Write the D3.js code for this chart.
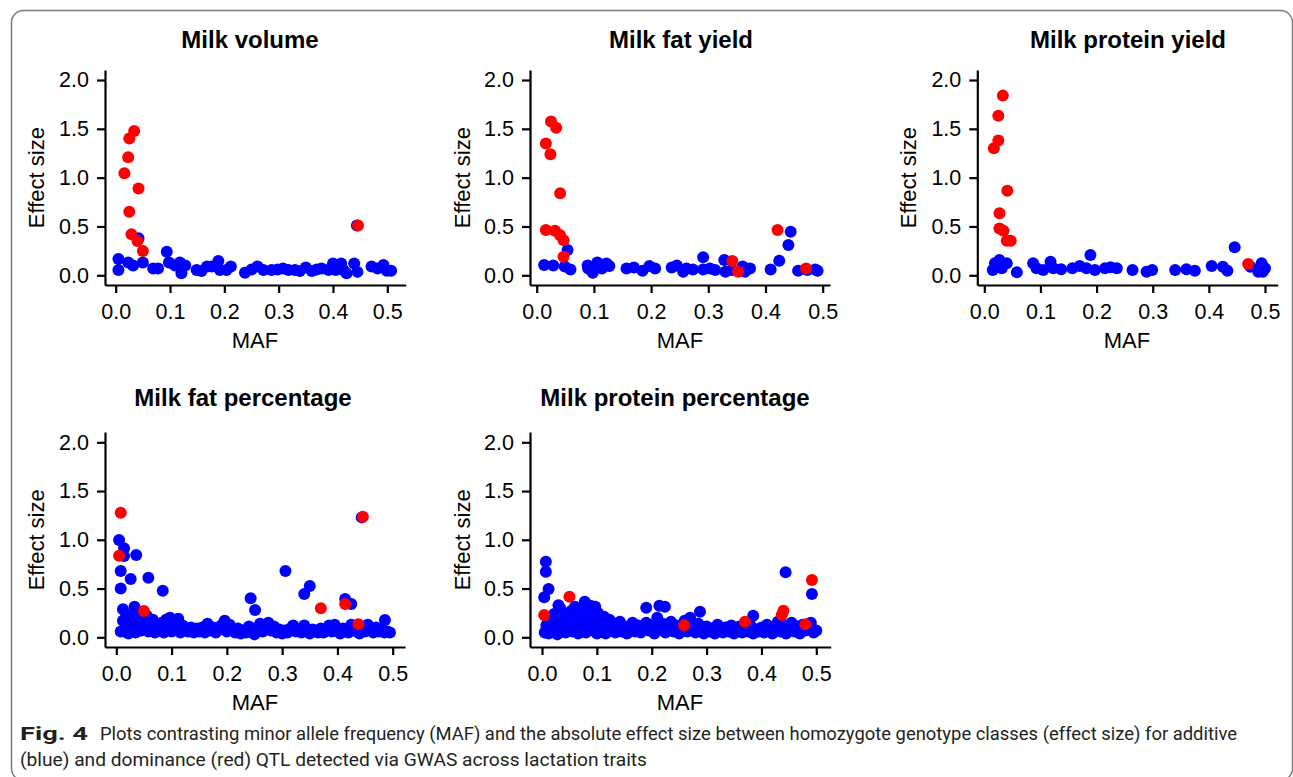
<!DOCTYPE html>
<html>
<head>
<meta charset="utf-8">
<script src="https://cdn.jsdelivr.net/npm/d3@7.9.0/dist/d3.min.js"></script>
<style>
  body { margin: 0; background: #fff; }
  svg { display: block; }
  .tick text { font-family: "Liberation Sans", Arial, sans-serif; fill: #000; }
</style>
</head>
<body>
<svg id="chart" width="1293" height="777"></svg>
<script>
// ---- data: [MAF, effect size] ----
const yTicks = [0, 0.5, 1.0, 1.5, 2.0];
const xTicks = [0, 0.1, 0.2, 0.3, 0.4, 0.5];

const volumeAdditive = [
  [0.042,0.38],[0.444,0.51],[0.094,0.24],[0.005,0.167],[0.005,0.054],[0.023,0.13],[0.032,0.10],
  [0.050,0.13],[0.069,0.07],[0.078,0.07],[0.098,0.13],[0.109,0.10],[0.118,0.13],[0.121,0.02],
  [0.128,0.10],[0.149,0.055],[0.158,0.045],[0.168,0.09],[0.177,0.09],[0.189,0.146],[0.192,0.055],
  [0.204,0.055],[0.212,0.09],[0.238,0.027],[0.250,0.06],[0.261,0.09],[0.272,0.055],[0.287,0.055],
  [0.298,0.06],[0.308,0.07],[0.318,0.055],[0.330,0.055],[0.339,0.045],[0.350,0.08],[0.361,0.045],
  [0.370,0.06],[0.379,0.07],[0.392,0.055],[0.400,0.12],[0.405,0.055],[0.415,0.12],[0.419,0.055],
  [0.425,0.02],[0.439,0.12],[0.445,0.035],[0.471,0.09],[0.482,0.07],[0.493,0.105],[0.499,0.047],
  [0.507,0.047]
];
const volumeDominance = [
  [0.034,1.478],[0.025,1.40],[0.023,1.21],[0.016,1.045],[0.042,0.89],[0.025,0.65],[0.029,0.42],
  [0.040,0.35],[0.050,0.25],[0.446,0.51]
];

const fatYieldAdditive = [
  [0.054,0.26],[0.013,0.105],[0.029,0.10],[0.049,0.09],[0.059,0.06],[0.089,0.10],[0.090,0.07],
  [0.098,0.027],[0.106,0.13],[0.114,0.07],[0.122,0.12],[0.127,0.095],[0.157,0.07],[0.170,0.08],
  [0.185,0.047],[0.197,0.095],[0.207,0.07],[0.236,0.08],[0.245,0.10],[0.256,0.037],[0.262,0.07],
  [0.273,0.06],[0.291,0.185],[0.291,0.06],[0.303,0.07],[0.312,0.055],[0.328,0.157],[0.330,0.037],
  [0.341,0.055],[0.360,0.09],[0.364,0.037],[0.373,0.07],[0.409,0.06],[0.424,0.15],[0.440,0.31],
  [0.444,0.447],[0.457,0.047],[0.473,0.055],[0.487,0.06],[0.491,0.047]
];
const fatYieldDominance = [
  [0.025,1.574],[0.034,1.51],[0.016,1.35],[0.024,1.24],[0.041,0.84],[0.016,0.464],[0.032,0.457],
  [0.041,0.41],[0.047,0.36],[0.047,0.19],[0.421,0.464],[0.342,0.146],[0.352,0.037],[0.471,0.07]
];

const proteinYieldAdditive = [
  [0.015,0.054],[0.019,0.123],[0.027,0.157],[0.031,0.072],[0.040,0.123],[0.058,0.03],[0.087,0.123],
  [0.093,0.072],[0.105,0.054],[0.118,0.14],[0.123,0.072],[0.137,0.062],[0.157,0.072],[0.170,0.095],
  [0.182,0.072],[0.189,0.208],[0.197,0.054],[0.215,0.072],[0.225,0.082],[0.236,0.072],[0.264,0.054],
  [0.289,0.037],[0.299,0.054],[0.340,0.054],[0.360,0.062],[0.375,0.047],[0.405,0.095],[0.425,0.088],
  [0.433,0.047],[0.446,0.287],[0.474,0.088],[0.488,0.037],[0.494,0.123],[0.500,0.072],[0.496,0.037]
];
const proteinYieldDominance = [
  [0.033,1.84],[0.025,1.635],[0.025,1.38],[0.017,1.30],[0.041,0.867],[0.027,0.635],[0.027,0.48],
  [0.034,0.457],[0.040,0.355],[0.047,0.355],[0.470,0.116]
];

const fatPctAdditive = [
  [0.444,1.23],[0.005,0.998],[0.014,0.913],[0.014,0.834],[0.036,0.844],[0.008,0.68],[0.026,0.598],
  [0.058,0.611],[0.008,0.50],[0.084,0.478],[0.012,0.287],[0.033,0.314],[0.306,0.68],[0.350,0.526],
  [0.340,0.444],[0.243,0.40],[0.251,0.28],[0.414,0.393],[0.425,0.342],[0.486,0.177],
  [0.008,0.06],[0.012,0.17],[0.015,0.06],[0.018,0.22],[0.02,0.1],[0.022,0.04],[0.025,0.15],
  [0.028,0.24],[0.03,0.08],[0.032,0.19],[0.035,0.05],[0.038,0.27],[0.04,0.12],[0.042,0.2],
  [0.045,0.07],[0.048,0.16],[0.052,0.1],[0.055,0.22],[0.058,0.06],[0.06,0.14],[0.063,0.09],
  [0.066,0.18],[0.07,0.05],[0.073,0.12],[0.078,0.08],[0.082,0.15],[0.086,0.05],[0.09,0.18],
  [0.093,0.1],[0.097,0.2],[0.1,0.06],[0.104,0.14],[0.108,0.09],[0.112,0.19],[0.116,0.05],
  [0.12,0.12],[0.125,0.08],[0.13,0.06],[0.135,0.1],[0.14,0.05],[0.145,0.09],[0.15,0.06],
  [0.155,0.1],[0.16,0.05],[0.165,0.14],[0.17,0.07],[0.175,0.1],[0.18,0.05],[0.185,0.08],
  [0.19,0.12],[0.196,0.17],[0.2,0.06],[0.205,0.13],[0.21,0.08],[0.215,0.05],[0.22,0.09],
  [0.225,0.04],[0.23,0.07],[0.235,0.05],[0.24,0.11],[0.245,0.06],[0.25,0.03],[0.255,0.09],
  [0.26,0.14],[0.265,0.06],[0.27,0.1],[0.275,0.15],[0.28,0.07],[0.285,0.11],[0.29,0.05],
  [0.295,0.08],[0.3,0.04],[0.305,0.07],[0.31,0.05],[0.315,0.09],[0.32,0.12],[0.325,0.06],
  [0.33,0.08],[0.335,0.05],[0.34,0.12],[0.345,0.07],[0.35,0.04],[0.355,0.08],[0.36,0.06],
  [0.365,0.05],[0.37,0.09],[0.375,0.05],[0.38,0.07],[0.385,0.12],[0.39,0.06],[0.395,0.13],
  [0.4,0.08],[0.405,0.04],[0.41,0.09],[0.415,0.06],[0.42,0.05],[0.425,0.13],[0.43,0.08],
  [0.435,0.06],[0.44,0.04],[0.445,0.1],[0.45,0.06],[0.455,0.13],[0.46,0.08],[0.465,0.05],
  [0.47,0.1],[0.475,0.06],[0.48,0.08],[0.485,0.05],[0.49,0.06],[0.495,0.05]
];
const fatPctDominance = [
  [0.008,1.278],[0.005,0.837],[0.050,0.27],[0.446,1.237],[0.370,0.297],[0.414,0.342],[0.438,0.133]
];

const proteinPctAdditive = [
  [0.007,0.775],[0.007,0.673],[0.012,0.495],[0.004,0.41],[0.444,0.666],[0.492,0.444],[0.190,0.304],
  [0.214,0.324],[0.224,0.314],[0.288,0.263],[0.385,0.222],[0.030,0.33],[0.078,0.365],[0.097,0.314],
  [0.060,0.314],
  [0.005,0.05],[0.008,0.12],[0.01,0.2],[0.012,0.04],[0.015,0.09],[0.018,0.16],[0.02,0.06],
  [0.022,0.24],[0.025,0.11],[0.028,0.03],[0.03,0.18],[0.033,0.3],[0.035,0.08],[0.038,0.13],
  [0.04,0.22],[0.043,0.05],[0.046,0.15],[0.05,0.1],[0.053,0.27],[0.056,0.06],[0.06,0.19],
  [0.063,0.12],[0.066,0.04],[0.07,0.21],[0.072,0.3],[0.075,0.09],[0.078,0.16],[0.08,0.05],
  [0.084,0.22],[0.087,0.12],[0.09,0.32],[0.093,0.07],[0.096,0.17],[0.1,0.04],[0.102,0.25],
  [0.105,0.1],[0.108,0.15],[0.11,0.06],[0.113,0.21],[0.116,0.04],[0.12,0.12],[0.123,0.18],
  [0.126,0.07],[0.13,0.14],[0.134,0.05],[0.138,0.1],[0.142,0.16],[0.146,0.06],[0.15,0.11],
  [0.155,0.04],[0.16,0.09],[0.165,0.15],[0.17,0.06],[0.175,0.12],[0.18,0.05],[0.185,0.1],
  [0.19,0.15],[0.195,0.07],[0.2,0.12],[0.205,0.04],[0.21,0.2],[0.215,0.08],[0.22,0.14],
  [0.225,0.05],[0.23,0.1],[0.235,0.16],[0.24,0.06],[0.245,0.12],[0.25,0.04],[0.255,0.09],
  [0.26,0.17],[0.265,0.06],[0.27,0.2],[0.275,0.1],[0.28,0.05],[0.285,0.14],[0.29,0.08],
  [0.295,0.04],[0.3,0.11],[0.305,0.06],[0.31,0.09],[0.315,0.04],[0.32,0.13],[0.325,0.07],
  [0.33,0.05],[0.335,0.1],[0.34,0.06],[0.345,0.12],[0.35,0.04],[0.355,0.08],[0.36,0.11],
  [0.365,0.05],[0.37,0.09],[0.375,0.06],[0.38,0.12],[0.385,0.04],[0.39,0.08],[0.395,0.06],
  [0.4,0.1],[0.405,0.05],[0.41,0.13],[0.415,0.07],[0.42,0.04],[0.425,0.11],[0.43,0.16],
  [0.435,0.06],[0.44,0.13],[0.445,0.04],[0.45,0.09],[0.455,0.15],[0.46,0.06],[0.465,0.11],
  [0.47,0.04],[0.475,0.13],[0.48,0.07],[0.485,0.1],[0.49,0.15],[0.495,0.05],[0.5,0.07]
];
const proteinPctDominance = [
  [0.004,0.229],[0.050,0.417],[0.259,0.123],[0.370,0.16],[0.440,0.273],[0.437,0.229],[0.480,0.133],
  [0.492,0.588]
];

const titles = ["Milk volume", "Milk fat yield", "Milk protein yield", "Milk fat percentage", "Milk protein percentage"];
const captionBold = "Fig. 4";
const captionLine1 = "Plots contrasting minor allele frequency (MAF) and the absolute effect size between homozygote genotype classes (effect size) for additive";
const captionLine2 = "(blue) and dominance (red) QTL detected via GWAS across lactation traits";

// ---- layout (pixel positions of each panel) ----
const panels = [
  { add: volumeAdditive, dom: volumeDominance, axisX: 105, x0: 115.7, x5: 387.3, xEnd: 405.7, y0: 275.3, y2: 80, axisY: 285, yTop: 70, titleX: 250, titleY: 39, ylabX: 36, mafX: 255 },
  { add: fatYieldAdditive, dom: fatYieldDominance, axisX: 530, x0: 536.7, x5: 822.7, xEnd: 830, y0: 275.3, y2: 80, axisY: 285, yTop: 70, titleX: 681, titleY: 39, ylabX: 462, mafX: 680 },
  { add: proteinYieldAdditive, dom: proteinYieldDominance, axisX: 977.3, x0: 984.3, x5: 1265, xEnd: 1277.7, y0: 275.3, y2: 80, axisY: 285, yTop: 70, titleX: 1128, titleY: 39, ylabX: 908, mafX: 1127 },
  { add: fatPctAdditive, dom: fatPctDominance, axisX: 105, x0: 116.3, x5: 392.7, xEnd: 405, y0: 637.3, y2: 442.3, axisY: 647, yTop: 432, titleX: 243, titleY: 397, ylabX: 36, mafX: 255 },
  { add: proteinPctAdditive, dom: proteinPctDominance, axisX: 530, x0: 542, x5: 816.3, xEnd: 830.7, y0: 637.3, y2: 442.3, axisY: 647, yTop: 432, titleX: 675, titleY: 397, ylabX: 462, mafX: 680 }
];

const svg = d3.select("#chart");
const font = "'Liberation Sans', Arial, sans-serif";

// frame
svg.append("rect")
  .attr("x", 11.5).attr("y", 10.5)
  .attr("width", 1281).attr("height", 770)
  .attr("rx", 12)
  .attr("fill", "none").attr("stroke", "#7a7a7a").attr("stroke-width", 1.5);

panels.forEach((p, i) => {
  const xBase = d3.scaleLinear().domain([0, 0.5]).range([p.x0, p.x5]);
  const yBase = d3.scaleLinear().domain([0, 2]).range([p.y0, p.y2]);
  const x = d3.scaleLinear().domain([xBase.invert(p.axisX), xBase.invert(p.xEnd)]).range([p.axisX, p.xEnd]);
  const y = d3.scaleLinear().domain([yBase.invert(p.axisY), yBase.invert(p.yTop)]).range([p.axisY, p.yTop]);

  const g = svg.append("g");

  g.append("g")
    .attr("transform", `translate(0,${p.axisY})`)
    .call(d3.axisBottom(x).tickValues(xTicks).tickFormat(d3.format(".1f")).tickSize(8).tickSizeOuter(0).tickPadding(11))
    .call(a => a.selectAll("path, line").attr("stroke", "#000").attr("stroke-width", 2.2))
    .call(a => a.selectAll("text").attr("font-size", 21.5));

  g.append("g")
    .attr("transform", `translate(${p.axisX},0)`)
    .call(d3.axisLeft(y).tickValues(yTicks).tickFormat(d3.format(".1f")).tickSize(8).tickSizeOuter(0).tickPadding(8))
    .call(a => a.selectAll("path, line").attr("stroke", "#000").attr("stroke-width", 2.2))
    .call(a => a.selectAll("text").attr("font-size", 21.5));

  g.append("g").selectAll("circle.add")
    .data(p.add).join("circle")
    .attr("cx", d => x(d[0])).attr("cy", d => y(d[1])).attr("r", 6)
    .attr("fill", "#0000ff");

  g.append("g").selectAll("circle.dom")
    .data(p.dom).join("circle")
    .attr("cx", d => x(d[0])).attr("cy", d => y(d[1])).attr("r", 6)
    .attr("fill", "#ff0000");

  g.append("text")
    .attr("x", p.titleX).attr("y", p.titleY)
    .attr("text-anchor", "middle").attr("dominant-baseline", "central")
    .attr("font-family", font).attr("font-weight", "bold").attr("font-size", 24)
    .text(titles[i]);

  g.append("text")
    .attr("transform", `translate(${p.ylabX},${(p.y0 + p.y2) / 2}) rotate(-90)`)
    .attr("text-anchor", "middle").attr("dominant-baseline", "central")
    .attr("font-family", font).attr("font-size", 22)
    .text("Effect size");

  g.append("text")
    .attr("x", p.mafX).attr("y", p.axisY + 55)
    .attr("text-anchor", "middle").attr("dominant-baseline", "central")
    .attr("font-family", font).attr("font-size", 22)
    .text("MAF");
});

// caption
const capFont = "Roboto, 'Noto Sans', sans-serif";
svg.append("text")
  .attr("x", 20).attr("y", 740)
  .attr("font-family", capFont).attr("font-weight", "bold").attr("font-size", 18)
  .attr("fill", "#231f20")
  .attr("textLength", 68).attr("lengthAdjust", "spacingAndGlyphs")
  .text(captionBold);
svg.append("text")
  .attr("x", 100).attr("y", 740)
  .attr("font-family", capFont).attr("font-size", 18)
  .attr("fill", "#231f20")
  .attr("textLength", 1137).attr("lengthAdjust", "spacingAndGlyphs")
  .text(captionLine1);
svg.append("text")
  .attr("x", 20).attr("y", 766)
  .attr("font-family", capFont).attr("font-size", 18)
  .attr("fill", "#231f20")
  .attr("textLength", 627).attr("lengthAdjust", "spacingAndGlyphs")
  .text(captionLine2);
</script>
</body>
</html>
